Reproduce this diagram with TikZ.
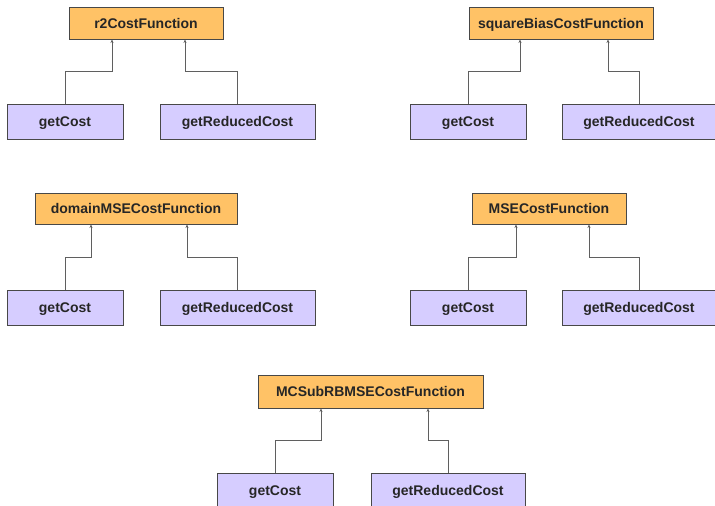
\documentclass[tikz,border=0pt]{standalone}
\usepackage{fontspec}
\setmainfont{Liberation Sans}
\usetikzlibrary{arrows.meta,calc}
\definecolor{orangefill}{RGB}{255,194,102}
\definecolor{purplefill}{RGB}{214,205,255}
\definecolor{boxborder}{RGB}{72,72,72}
\definecolor{connline}{RGB}{95,95,95}
\tikzset{
  parentbox/.style={draw=boxborder, line width=0.9pt, fill=orangefill, rectangle, minimum height=32pt, inner sep=0pt, text depth=0pt, font=\fontsize{14}{16}\selectfont\bfseries, text=black!85},
  childbox/.style={draw=boxborder, line width=0.9pt, fill=purplefill, rectangle, minimum height=35pt, inner sep=0pt, text depth=0pt, font=\fontsize{14}{16}\selectfont\bfseries, text=black!85},
  conn/.style={draw=connline, line width=0.9pt, -{Stealth[length=3.5pt,width=3pt]}}
}
\begin{document}
\begin{tikzpicture}[x=1pt,y=-1pt]
\useasboundingbox (0,0) rectangle (715,506);
\fill[white] (0,0) rectangle (715,506);

% group 1
\node[parentbox, minimum width=154pt] (p1) at (146,23) {r2CostFunction};
\node[childbox, minimum width=116pt] (c1a) at (65,121.5) {getCost};
\node[childbox, minimum width=155pt] (c1b) at (237.5,121.5) {getReducedCost};
\draw[conn] (c1a.north) -- (c1a.north |- 0,71) -| ([xshift=-34pt]p1.south);
\draw[conn] (c1b.north) -- (c1b.north |- 0,71) -| ([xshift=39pt]p1.south);

% group 2
\node[parentbox, minimum width=184pt] (p2) at (561,23) {squareBiasCostFunction};
\node[childbox, minimum width=116pt] (c2a) at (468,121.5) {getCost};
\node[childbox, minimum width=153pt] (c2b) at (639,121.5) {getReducedCost};
\draw[conn] (c2a.north) -- (c2a.north |- 0,71) -| ([xshift=-41pt]p2.south);
\draw[conn] (c2b.north) -- (c2b.north |- 0,71) -| ([xshift=47pt]p2.south);

% group 3
\node[parentbox, minimum width=202pt, minimum height=31pt] (p3) at (136,208.5) {domainMSECostFunction};
\node[childbox, minimum width=116pt] (c3a) at (65,307.5) {getCost};
\node[childbox, minimum width=155pt] (c3b) at (237.5,307.5) {getReducedCost};
\draw[conn] (c3a.north) -- (c3a.north |- 0,257) -| ([xshift=-45pt]p3.south);
\draw[conn] (c3b.north) -- (c3b.north |- 0,257) -| ([xshift=51pt]p3.south);

% group 4
\node[parentbox, minimum width=154pt, minimum height=31pt] (p4) at (549,208.5) {MSECostFunction};
\node[childbox, minimum width=116pt] (c4a) at (468,307.5) {getCost};
\node[childbox, minimum width=153pt] (c4b) at (639,307.5) {getReducedCost};
\draw[conn] (c4a.north) -- (c4a.north |- 0,257) -| ([xshift=-33pt]p4.south);
\draw[conn] (c4b.north) -- (c4b.north |- 0,257) -| ([xshift=40pt]p4.south);

% group 5
\node[parentbox, minimum width=225pt, minimum height=33pt] (p5) at (370.5,391.5) {MCSubRBMSECostFunction};
\node[childbox, minimum width=116pt] (c5a) at (275,490.5) {getCost};
\node[childbox, minimum width=154pt] (c5b) at (448,490.5) {getReducedCost};
\draw[conn] (c5a.north) -- (c5a.north |- 0,440) -| ([xshift=-49.5pt]p5.south);
\draw[conn] (c5b.north) -- (c5b.north |- 0,440) -| ([xshift=57.5pt]p5.south);
\end{tikzpicture}
\end{document}
